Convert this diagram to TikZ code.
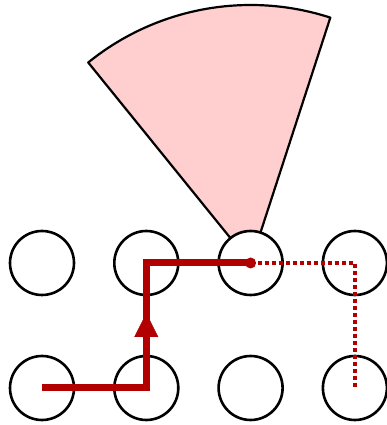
\documentclass[tikz,border=0pt]{standalone}
\usetikzlibrary{arrows.meta,decorations.markings}
\definecolor{pathred}{RGB}{178,0,0}
\definecolor{conepink}{RGB}{255,206,206}
\begin{document}
\begin{tikzpicture}[x=1pt,y=1pt,
    cell/.style={circle,draw,line width=2.6pt,fill=white,minimum size=64pt,inner sep=0pt},
    cone/.style={fill=conepink,draw,line width=2.2pt,line join=round},
    route/.style={pathred,line width=7pt},
    plan/.style={pathred,line width=4.5pt,dash pattern=on 4pt off 3pt}]
    \useasboundingbox (0,0) rectangle (387,425);

    \filldraw[cone] (250.6,162) -- ++(72:258) arc[start angle=72,end angle=129,radius=258] -- cycle;

    \foreach \i/\x in {1/42,2/146.3,3/250.6,4/354.9} {
        \node[cell] (t\i) at (\x,162) {};
        \node[cell] (b\i) at (\x,37)  {};
    }

    \draw[plan] (t3.center) -- (t4.center) -- (b4.center);
    \draw[route] (b1.center) -- (b2.center) -- (t2.center) -- (t3.center);
    \fill[pathred] (t3.center) circle (5.5pt);
    \path[decoration={markings,mark=at position 0.6 with {\arrow[pathred]{Triangle[width=24pt,length=24pt]}}},
        decorate] (b2.center) -- (t2.center);
\end{tikzpicture}
\end{document}
